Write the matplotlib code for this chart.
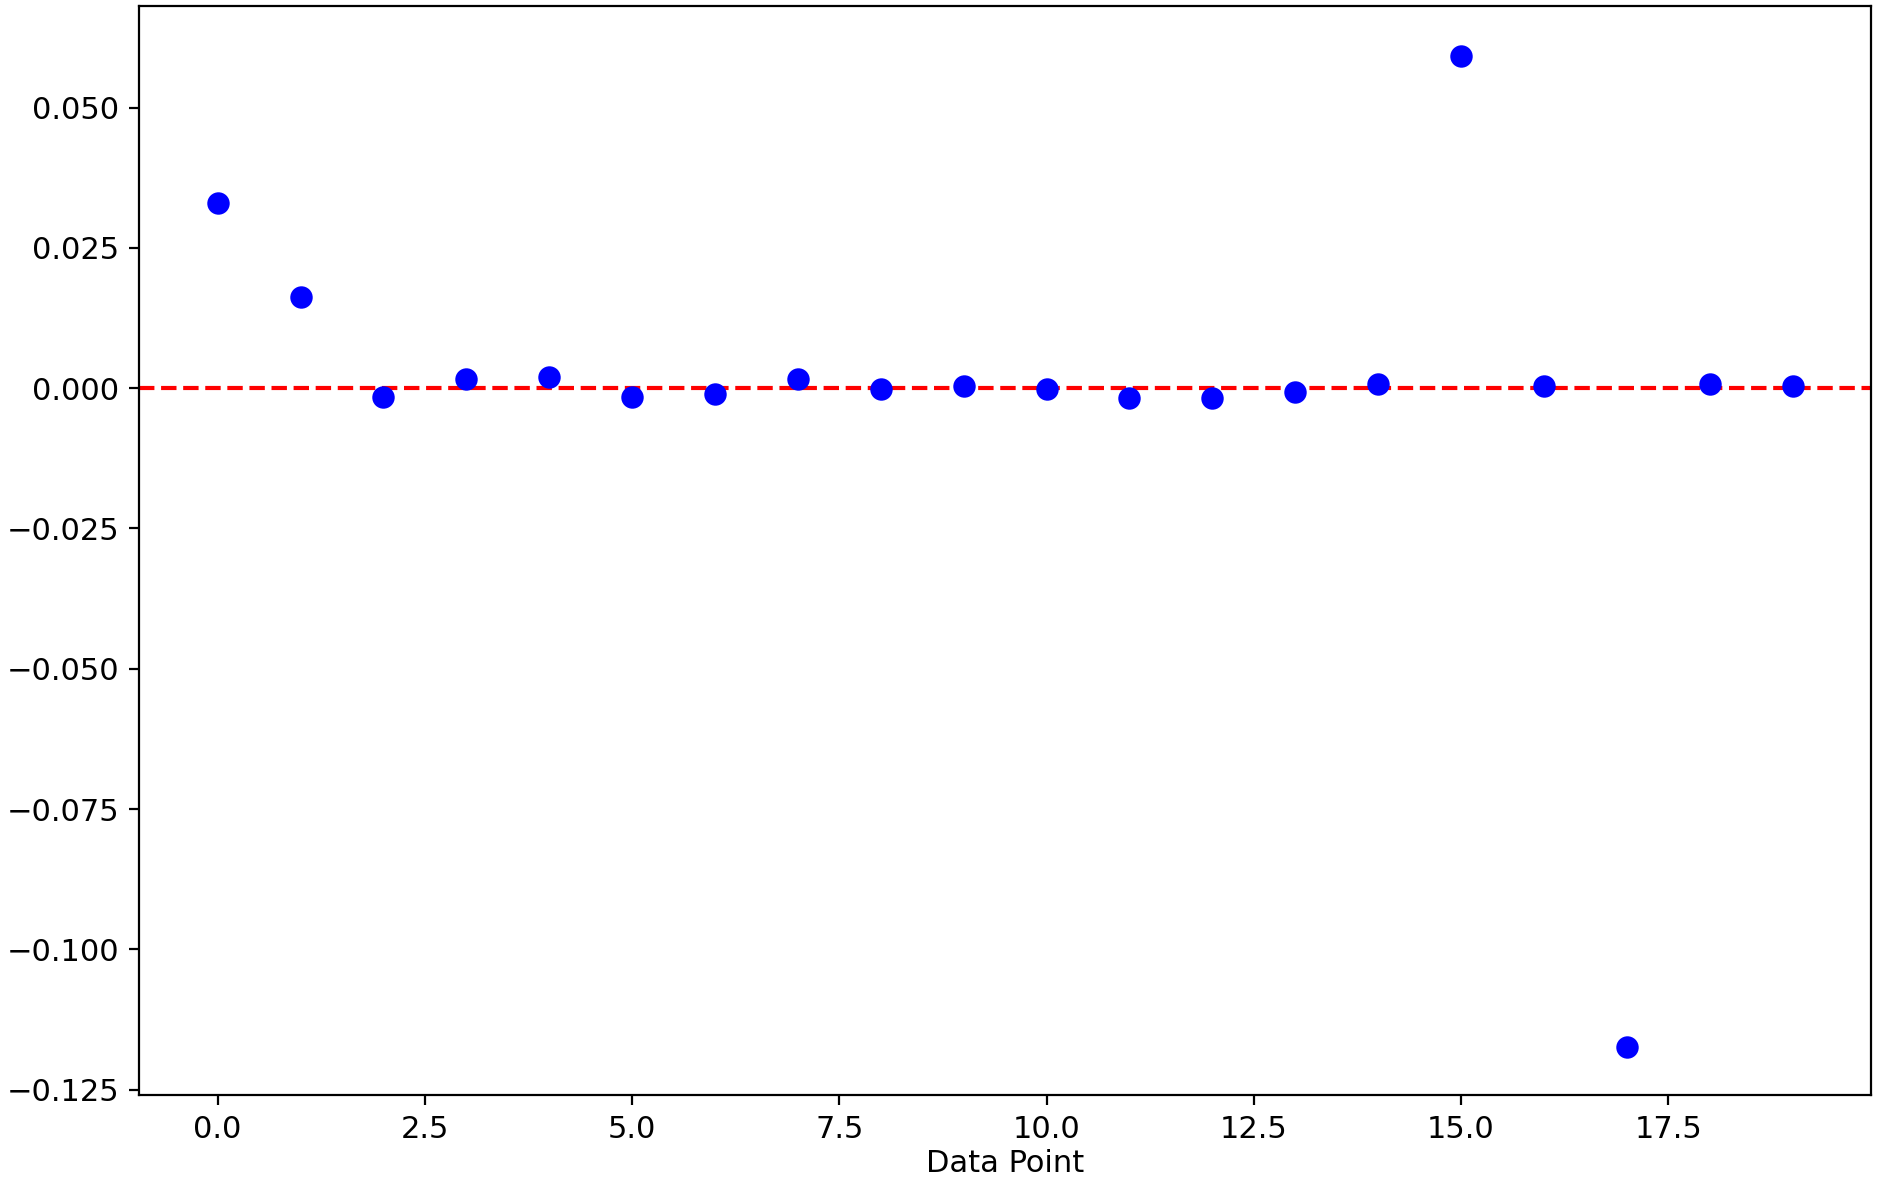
import numpy as np
import matplotlib
matplotlib.use("Agg")
import matplotlib.pyplot as plt

# residuals
data_points = list(range(20))
residuals = [0.033, 0.0163, -0.0015, 0.0017, 0.002, -0.0015, -0.001, 0.0017,
             -0.0002, 0.0004, -0.0002, -0.0018, -0.0018, -0.0006, 0.0008,
             0.0591, 0.0004, -0.1174, 0.0008, 0.0004]

plt.rcParams['font.size'] = 11
fig = plt.figure(figsize=(9.385, 5.985), dpi=200)
ax = fig.add_axes([0.074, 0.085, 0.923, 0.91])
ax.scatter(data_points, residuals, color='blue', s=50, zorder=3)
ax.axhline(0, color='red', linestyle='--', linewidth=1.5)
ax.set_xlim(-0.95, 19.95)
ax.set_ylim(-0.126, 0.0681)
ax.set_xlabel('Data Point', labelpad=2)

fig.savefig('out.png', dpi=200)
